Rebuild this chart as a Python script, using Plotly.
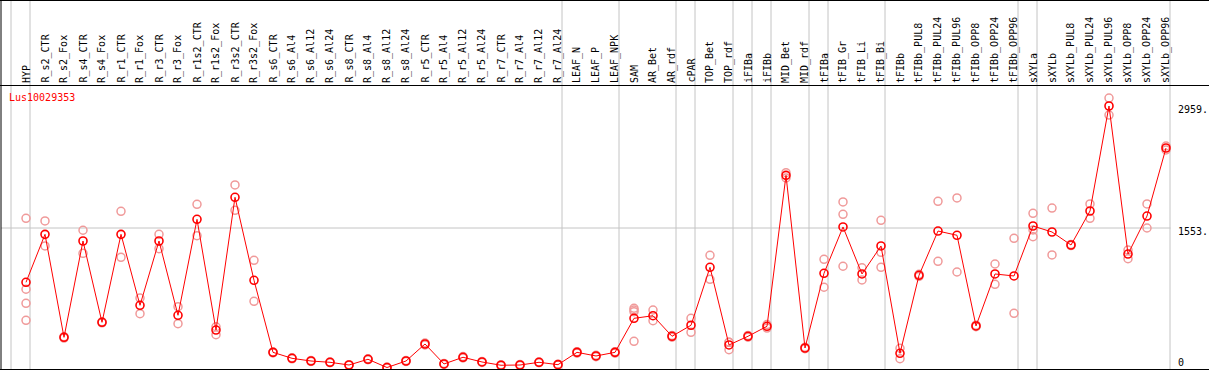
import plotly.graph_objects as go

W, H = 1209, 370

title = "Lus10029353"

categories = [
    "HYP", "R_s2_CTR", "R_s2_Fox", "R_s4_CTR", "R_s4_Fox", "R_r1_CTR", "R_r1_Fox",
    "R_r3_CTR", "R_r3_Fox", "R_r1s2_CTR", "R_r1s2_Fox", "R_r3s2_CTR", "R_r3s2_Fox",
    "R_s6_CTR", "R_s6_Al4", "R_s6_Al12", "R_s6_Al24", "R_s8_CTR", "R_s8_Al4",
    "R_s8_Al12", "R_s8_Al24", "R_r5_CTR", "R_r5_Al4", "R_r5_Al12", "R_r5_Al24",
    "R_r7_CTR", "R_r7_Al4", "R_r7_Al12", "R_r7_Al24", "LEAF_N", "LEAF_P", "LEAF_NPK",
    "SAM", "AR_Bet", "AR_rdf", "cPAR", "TOP_Bet", "TOP_rdf", "iFIBa", "iFIBb",
    "MID_Bet", "MID_rdf", "tFIBa", "tFIB_Gr", "tFIB_Li", "tFIB_Bi", "tFIBb",
    "tFIBb_PUL8", "tFIBb_PUL24", "tFIBb_PUL96", "tFIBb_OPP8", "tFIBb_OPP24",
    "tFIBb_OPP96", "sXYLa", "sXYLb", "sXYLb_PUL8", "sXYLb_PUL24", "sXYLb_PUL96",
    "sXYLb_OPP8", "sXYLb_OPP24", "sXYLb_OPP96",
]

mean_values = [
    927, 1480, 293, 1403, 466, 1480, 662, 1403, 547, 1653, 377, 1907, 950,
    120, 51, 20, 5, -26, 40, -55, 20, 216, -14, 63, 9, -29, -26, 5, -22,
    120, 78, 120,
    512, 542, 305, 432, 1100, 205, 305, 420, 2160, 170,
    1031, 1565, 1023, 1346, 109, 1008, 1518, 1469, 424, 1023, 1000,
    1576, 1507, 1357, 1749, 2959, 1253, 1691, 2475,
]

replicates = [
    [1665, 847, 685, 489], [1634, 1346], [285, 300], [1527, 1261], [460, 472],
    [1745, 1215], [746, 565], [1480, 1314], [646, 450], [1826, 1464], [415, 323],
    [2049, 1757], [1181, 708],
    [115, 125], [45, 57], [15, 25], [0, 10], [-30, -22], [35, 45], [-60, -50],
    [15, 25], [205, 227], [-20, -8], [55, 71], [4, 14], [-34, -24], [-31, -21],
    [0, 10], [-27, -17], [112, 128], [70, 86], [112, 128],
    [628, 608, 588, 247], [608, 485], [295, 315], [512, 351], [1238, 962],
    [236, 236, 150], [295, 315], [440, 400], [2190, 2130], [162, 178],
    [1192, 870], [1853, 1711, 1112], [1095, 954], [1642, 1273, 1100], [167, 47],
    [995, 1020], [1861, 1169], [1899, 1046], [415, 433], [1138, 904], [1434, 570],
    [1722, 1530, 1453], [1783, 1242], [1350, 1364], [1830, 1665], [3051, 2855],
    [1299, 1199], [1830, 1553], [2498, 2452],
]

# separators drawn after these category indices (-1 = before first)
group_breaks = [-1, 0, 28, 31, 34, 35, 37, 38, 39, 41, 42, 45, 52, 53, 60]

y_ticks = [2959, 1553, 0]
y_grid = [1553]

# ---------------------------------------------------------------------------
RED = "#FF0000"
PINK = "#F09A9A"
GRAY = "#C4C4C4"
FONT = "DejaVu Sans Mono"

xs = list(range(len(categories)))
rep_x, rep_y = [], []
for i, reps in enumerate(replicates):
    for v in reps:
        rep_x.append(i)
        rep_y.append(v)

fig = go.Figure()
fig.add_trace(go.Scatter(
    x=rep_x, y=rep_y, mode="markers",
    marker=dict(symbol="circle-open", size=8, color=PINK, line=dict(width=1.5, color=PINK)),
    hoverinfo="skip", showlegend=False,
))
fig.add_trace(go.Scatter(
    x=xs, y=mean_values, mode="lines+markers",
    line=dict(color=RED, width=1),
    marker=dict(symbol="circle-open", size=8, color=RED, line=dict(width=1.6, color=RED)),
    hoverinfo="skip", showlegend=False,
))

# x mapping: category i at pixel 26 + 19*i ; y mapping fixed to picture scale
x_range = [-26 / 19, (W - 26) / 19]
y_range = [-83.6, 4180.7]

def py(p):
    return 1 - p / H

def px(p):
    return p / W

shapes = []
sep_off = 4 / 19
for b in group_breaks:
    shapes.append(dict(type="line", xref="x", yref="paper", x0=b + sep_off, x1=b + sep_off,
                       y0=py(369), y1=1, line=dict(color=GRAY, width=1), layer="below"))
for g in y_grid:
    shapes.append(dict(type="line", xref="paper", yref="y", x0=px(1), x1=px(1170.5), y0=g, y1=g,
                       line=dict(color=GRAY, width=1), layer="below"))
# frame lines
for yy in (0.5, 85.5, 369.5):
    shapes.append(dict(type="line", xref="paper", yref="paper", x0=0, x1=1, y0=py(yy), y1=py(yy),
                       line=dict(color="black", width=1)))
shapes.append(dict(type="line", xref="paper", yref="paper", x0=px(1), x1=px(1), y0=0, y1=1,
                   line=dict(color="black", width=1)))

annotations = []
for i, c in enumerate(categories):
    annotations.append(dict(text=c, x=i, xref="x", y=py(84), yref="paper", textangle=-90,
                            xanchor="center", yanchor="bottom", showarrow=False, borderpad=0,
                            font=dict(family=FONT, size=10, color="black")))
annotations.append(dict(text=title, x=px(8), xref="paper", y=py(97), yref="paper",
                        xanchor="left", yanchor="middle", showarrow=False, borderpad=0,
                        font=dict(family=FONT, size=10, color=RED)))
lowest = min(y_ticks)
for t in y_ticks:
    label = f"{t}." if t != 0 else "0"
    if t == lowest:
        annotations.append(dict(text=label, x=px(1177), xref="paper", y=py(369), yref="paper",
                                xanchor="left", yanchor="bottom", showarrow=False, borderpad=0,
                                font=dict(family=FONT, size=10, color="black")))
    else:
        annotations.append(dict(text=label, x=px(1177), xref="paper", y=t, yref="y",
                                xanchor="left", yanchor="middle", yshift=-3, showarrow=False,
                                borderpad=0, font=dict(family=FONT, size=10, color="black")))

fig.update_layout(
    width=W, height=H, autosize=False,
    margin=dict(l=0, r=0, t=0, b=0, pad=0),
    paper_bgcolor="white", plot_bgcolor="white",
    xaxis=dict(range=x_range, visible=False, fixedrange=True),
    yaxis=dict(range=y_range, visible=False, fixedrange=True),
    shapes=shapes, annotations=annotations, showlegend=False,
)

fig.write_html(
    "out.html",
    config={"displayModeBar": False},
    post_script="document.body.style.margin='0';document.body.style.overflow='hidden';",
)
